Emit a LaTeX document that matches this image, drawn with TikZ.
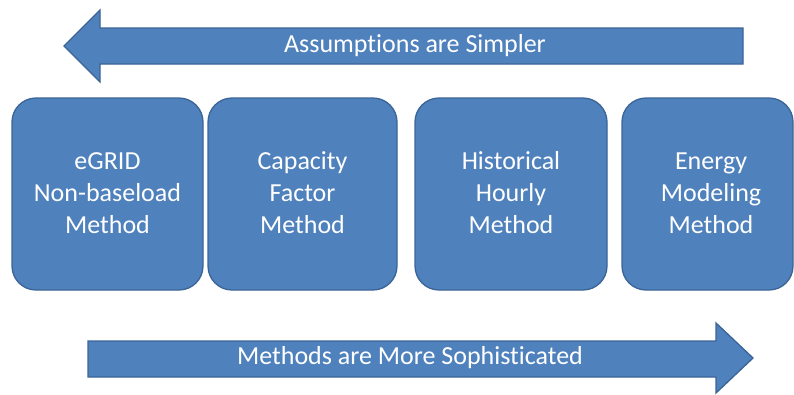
\documentclass[tikz,border=0pt]{standalone}
\usepackage{fontspec}
\setmainfont[Ligatures=NoCommon]{Carlito}
\definecolor{boxfill}{HTML}{4F81BD}
\definecolor{boxline}{HTML}{3A6496}
\begin{document}
\begin{tikzpicture}[x=1pt,y=-1pt,
  shapestyle/.style={fill=boxfill,draw=boxline,line width=1.3pt,line join=miter},
  boxstyle/.style={fill=boxfill,draw=boxline,line width=1.3pt,rounded corners=24pt},
  boxtext/.style={text=white,font=\fontsize{26}{32}\selectfont,align=center},
  arrowtext/.style={text=white,font=\fontsize{26}{30}\selectfont}]
\useasboundingbox (0,0) rectangle (794,394);
% top arrow (left)
\draw[shapestyle] (64,46) -- (100,10) -- (100,28) -- (743,28) -- (743,64) -- (100,64) -- (100,82) -- cycle;
\node[arrowtext] (top) at (415,46) {Assumptions are Simpler};
% boxes
\draw[boxstyle] (12,98) rectangle (203,290);
\draw[boxstyle] (208,98) rectangle (397,290);
\draw[boxstyle] (415,98) rectangle (607,290);
\draw[boxstyle] (622,98) rectangle (793,290);
\node[boxtext] (b1) at (107.5,193) {eGRID\\Non-baseload\\Method};
\node[boxtext] (b2) at (302.5,193) {Capacity\\Factor\\Method};
\node[boxtext] (b3) at (511,193) {Historical\\Hourly\\Method};
\node[boxtext] (b4) at (711,193) {Energy\\Modeling\\Method};
% bottom arrow (right)
\draw[shapestyle] (88,341) -- (716,341) -- (716,323) -- (753,358) -- (716,393) -- (716,377) -- (88,377) -- cycle;
\node[arrowtext] (bot) at (410,358) {Methods are More Sophisticated};
\end{tikzpicture}
\end{document}
